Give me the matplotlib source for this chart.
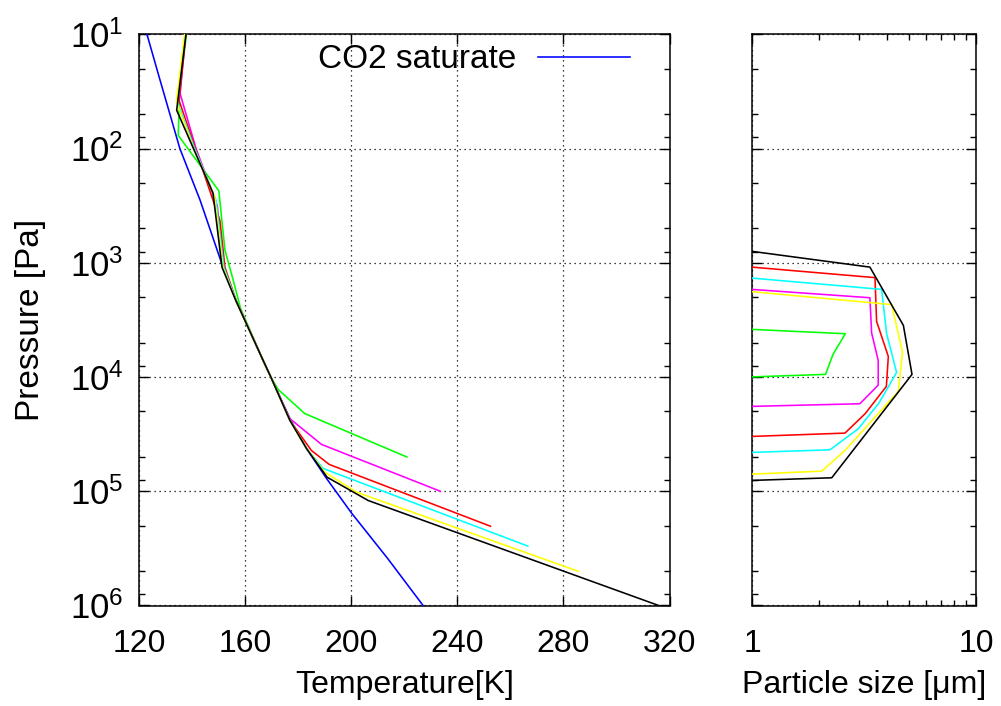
import matplotlib
matplotlib.use('Agg')
import matplotlib.pyplot as plt
import numpy as np
from matplotlib.ticker import FixedLocator, FixedFormatter, NullFormatter

plt.rcParams['font.family'] = ['Liberation Sans', 'DejaVu Sans']
plt.rcParams['mathtext.fontset'] = 'custom'
plt.rcParams['mathtext.rm'] = 'Liberation Sans'
plt.rcParams['mathtext.it'] = 'Liberation Sans:italic'

# ---------------- data ----------------
# CO2 saturation curve (log10 pressure [Pa], temperature [K])
sat_logp = [1.0, 1.374, 2.0, 2.45, 3.0, 3.33, 3.855, 4.0, 4.38, 4.628, 4.888, 5.19, 5.59, 6.0]
sat_t = [123.0, 127.6, 135.4, 143.0, 151.1, 156.5, 166.8, 169.7, 177.2, 183.2, 190.7, 200.1, 213.8, 227.1]

# temperature profiles
green_logp = [1.0, 1.5, 1.885, 2.37, 2.89, 3.15, 3.40, 3.855, 4.0, 4.11, 4.32, 4.70]
green_t = [137.9, 135.3, 134.8, 150.1, 152.4, 155.5, 158.3, 166.8, 169.7, 172.5, 182.5, 221.0]

mag_logp = [1.0, 1.52, 2.0, 2.5, 3.04, 3.33, 3.855, 4.0, 4.365, 4.59, 5.0]
mag_t = [137.6, 135.5, 141.5, 149.5, 152.0, 156.6, 166.8, 169.7, 176.9, 188.8, 233.6]

red_logp = [1.0, 1.58, 2.0, 2.63, 3.04, 3.33, 3.855, 4.0, 4.38, 4.643, 4.765, 5.306]
red_t = [137.6, 135.1, 141.3, 150.5, 152.4, 156.6, 166.8, 169.7, 176.9, 185.0, 191.7, 252.5]

cyan_logp = [1.0, 1.6, 2.0, 2.45, 3.04, 3.33, 3.855, 4.0, 4.38, 4.628, 4.80, 5.48]
cyan_t = [137.4, 134.6, 141.0, 149.0, 152.0, 156.6, 166.8, 169.7, 176.9, 183.2, 189.4, 266.6]

yel_logp = [1.0, 1.59, 2.0, 2.42, 3.04, 3.33, 3.855, 4.0, 4.38, 4.628, 4.833, 5.008, 5.70]
yel_t = [137.2, 134.1, 140.6, 148.5, 151.6, 156.5, 166.8, 169.7, 176.9, 183.2, 190.0, 202.0, 285.5]

blk_logp = [1.0, 1.665, 2.39, 3.04, 3.33, 3.855, 4.0, 4.38, 4.628, 4.877, 5.081, 6.0]
blk_t = [137.7, 134.2, 147.9, 151.3, 156.5, 166.8, 169.7, 176.9, 183.2, 190.9, 206.4, 315.9]

# particle size profiles (size [um], log10 pressure [Pa])
green_size = [1.0, 2.61, 2.30, 2.13, 1.0]
green_size_logp = [3.583, 3.621, 3.802, 3.977, 3.999]

mag_size = [1.0, 3.36, 3.42, 3.66, 3.66, 3.03, 1.0]
mag_size_logp = [3.233, 3.306, 3.614, 3.855, 4.071, 4.234, 4.257]

red_size = [1.0, 3.54, 3.60, 4.06, 3.98, 3.20, 2.60, 1.0]
red_size_logp = [3.038, 3.130, 3.513, 3.820, 4.082, 4.321, 4.491, 4.520]

cyan_size = [1.0, 3.79, 3.99, 4.42, 3.69, 2.98, 2.23, 1.0]
cyan_size_logp = [3.134, 3.233, 3.621, 3.960, 4.227, 4.453, 4.637, 4.660]

yel_size = [1.0, 4.20, 4.70, 4.50, 2.60, 2.05, 1.0]
yel_size_logp = [3.253, 3.366, 3.782, 4.126, 4.643, 4.824, 4.850]

blk_size = [1.0, 3.36, 4.74, 5.18, 2.27, 1.0]
blk_size_logp = [2.900, 3.038, 3.548, 3.977, 4.882, 4.905]

temp_ticks = [120, 160, 200, 240, 280, 320]
p_decades = [1, 2, 3, 4, 5, 6]
size_ticks = [1, 10]

colors = {'green': '#00ff00', 'magenta': '#ff00ff', 'red': '#ff0000',
          'cyan': '#00ffff', 'yellow': '#ffff00', 'black': '#000000'}
blue = '#0000ff'

FS = 23
LW = 1.15

fig = plt.figure(figsize=(10.01, 7.06), dpi=100)
bottom = 1 - 605.5 / 706
height = 571.2 / 706
axL = fig.add_axes([139 / 1001, bottom, 530.5 / 1001, height])
axR = fig.add_axes([752 / 1001, bottom, 224 / 1001, height])

P = lambda lp: 10.0 ** np.asarray(lp)

axL.plot(sat_t, P(sat_logp), color=blue, lw=LW, label='CO2 saturate', zorder=3)
for t, lp, c in [(green_t, green_logp, 'green'), (mag_t, mag_logp, 'magenta'),
                 (red_t, red_logp, 'red'), (cyan_t, cyan_logp, 'cyan'),
                 (yel_t, yel_logp, 'yellow'), (blk_t, blk_logp, 'black')]:
    axL.plot(t, P(lp), color=colors[c], lw=LW, zorder=4)

for s, lp, c in [(green_size, green_size_logp, 'green'), (mag_size, mag_size_logp, 'magenta'),
                 (red_size, red_size_logp, 'red'), (cyan_size, cyan_size_logp, 'cyan'),
                 (yel_size, yel_size_logp, 'yellow'), (blk_size, blk_size_logp, 'black')]:
    axR.plot(s, P(lp), color=colors[c], lw=LW, zorder=4)

major_p = [10.0 ** d for d in p_decades]
minor_p = [m * 10.0 ** d for d in p_decades[:-1] for m in (2, 5, 8)]
ylabels = [r'$\mathregular{10^{%d}}$' % d for d in p_decades]

for ax in (axL, axR):
    ax.set_yscale('log')
    ax.set_ylim(1e6, 1e1)
    ax.yaxis.set_major_locator(FixedLocator(major_p))
    ax.yaxis.set_minor_locator(FixedLocator(minor_p))
    ax.yaxis.set_minor_formatter(NullFormatter())
    ax.tick_params(which='both', direction='in', top=True, right=True, width=1.0)
    ax.tick_params(which='major', length=7)
    ax.tick_params(which='minor', length=4.5)
    ax.tick_params(axis='x', pad=17, labelsize=23)
    ax.tick_params(axis='y', pad=11, labelsize=25)
    for sp in ax.spines.values():
        sp.set_linewidth(1.1)
    ax.grid(True, which='major', color='black', linestyle=(0, (1, 3)), lw=0.9)

axL.set_xlim(120, 320)
axL.xaxis.set_major_locator(FixedLocator(temp_ticks))
axL.yaxis.set_major_formatter(FixedFormatter(ylabels))
axL.set_xlabel('Temperature[K]', fontsize=FS, labelpad=8)
axL.set_ylabel('Pressure [Pa]', fontsize=24, labelpad=17)

axR.set_xscale('log')
axR.set_xlim(1, 10)
axR.xaxis.set_major_locator(FixedLocator(size_ticks))
axR.xaxis.set_major_formatter(FixedFormatter([str(v) for v in size_ticks]))
axR.xaxis.set_minor_locator(FixedLocator([m for m in range(2, 10)]))
axR.xaxis.set_minor_formatter(NullFormatter())
axR.yaxis.set_major_formatter(NullFormatter())
axR.set_xlabel('Particle size [\u03bcm]', fontsize=FS, labelpad=8)

leg = axL.legend(loc='center right', bbox_to_anchor=((630 - 139) / 530.5, 1 - (60 - 34.3) / 571.2),
                 frameon=False, fontsize=24, markerfirst=False, handlelength=2.75,
                 handletextpad=0.65, borderpad=0, borderaxespad=0)

fig.savefig('out.png', dpi=100)
